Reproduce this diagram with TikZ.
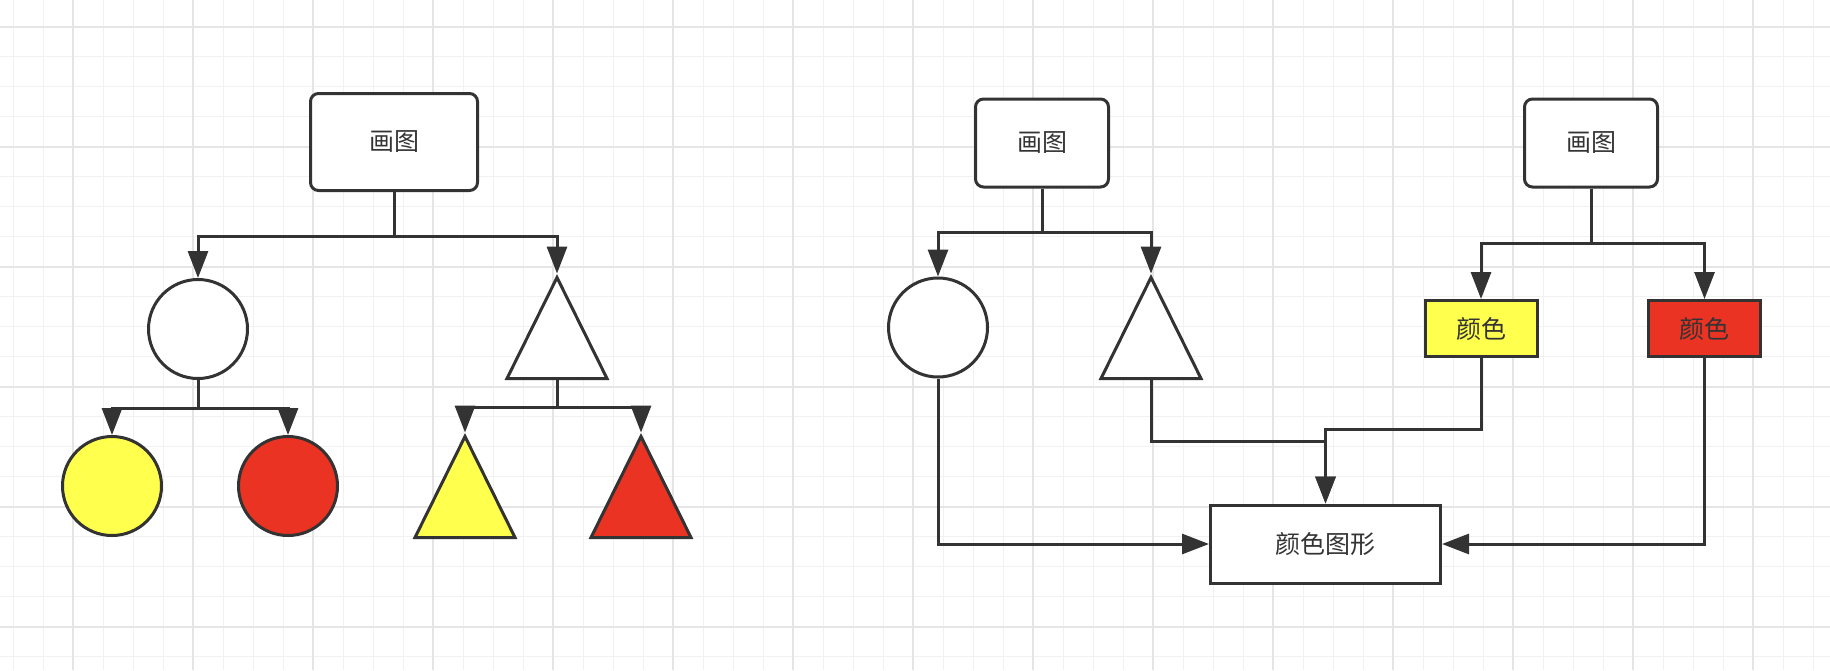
\documentclass[tikz,border=0pt]{standalone}
\usepackage{fontspec}
\setmainfont{Noto Sans CJK SC}
\usetikzlibrary{arrows.meta, shapes.geometric}
\tikzset{>={Triangle[width=20pt,length=27pt]}}
\definecolor{ink}{HTML}{333333}
\definecolor{lemon}{HTML}{FFFF4D}
\definecolor{tomato}{HTML}{EA3323}
\definecolor{gridminor}{HTML}{F1F1F1}
\definecolor{gridmajor}{HTML}{E5E5E5}

\begin{document}
\begin{tikzpicture}[x=1pt, y=-1pt,
    every node/.style={font=\fontsize{25}{29}\selectfont, text=ink, draw=ink,
      line width=3pt, inner sep=0pt, fill=white},
    drawbox/.style={rounded corners=8pt, minimum width=167pt, minimum height=97pt},
    smallbox/.style={rounded corners=8pt, minimum width=133pt, minimum height=88pt},
    ball/.style={circle, minimum size=99pt},
    cone/.style={isosceles triangle, shape border rotate=90,
      isosceles triangle stretches, minimum width=100pt, minimum height=101pt,
      anchor=south},
    tint/.style={minimum width=112pt, minimum height=56pt},
    link/.style={draw=ink, line width=3pt, ->}]
    \useasboundingbox (0,0) rectangle (1830,670);
    \fill[white] (0,0) rectangle (1830,670);
    % grid
    \foreach \i in {0,...,60} \draw[gridminor, line width=1.5pt] ({13.33+30*\i},0) -- ++(0,670);
    \foreach \i in {0,...,21} \draw[gridminor, line width=1.5pt] (0,{26.67+30*\i}) -- ++(1830,0);
    \foreach \i in {0,...,15} \draw[gridmajor, line width=1.8pt] ({73.33+120*\i},0) -- ++(0,670);
    \foreach \i in {0,...,5} \draw[gridmajor, line width=1.8pt] (0,{26.67+120*\i}) -- ++(1830,0);

    % left tree
    \node[drawbox] (paint) at (394,142) {画图};
    \node[ball] (round) at (198,329) {};
    \node[cone] (peak) at (557,380) {};
    \node[ball, fill=lemon] (roundy) at (112,486) {};
    \node[ball, fill=tomato] (roundr) at (288,486) {};
    \node[cone, fill=lemon] (peaky) at (465,539) {};
    \node[cone, fill=tomato] (peakr) at (641,539) {};
    \draw[link] (paint.south) -- ++(0,44) -| (round.north);
    \draw[link] (paint.south) -- ++(0,44) -| (peak.north);
    \draw[link] (round.south) -- ++(0,28) -| (roundy.north);
    \draw[link] (round.south) -- ++(0,28) -| (roundr.north);
    \draw[link] (peak.south) -- ++(0,27) -| (peaky.north);
    \draw[link] (peak.south) -- ++(0,27) -| (peakr.north);

    % right part
    \node[smallbox] (shape) at (1042,143) {画图};
    \node[smallbox] (color) at (1591,143) {画图};
    \node[ball] (round2) at (938,327.5) {};
    \node[cone] (peak2) at (1151,380) {};
    \node[tint, fill=lemon] (tinty) at (1481,328.5) {颜色};
    \node[tint, fill=tomato] (tintr) at (1704.5,328.5) {颜色};
    \node[minimum width=230pt, minimum height=78pt] (mix) at (1325.5,544) {颜色图形};
    \draw[link] (shape.south) -- ++(0,44) -| (round2.north);
    \draw[link] (shape.south) -- ++(0,44) -| (peak2.north);
    \draw[link] (color.south) -- ++(0,55) -| (tinty.north);
    \draw[link] (color.south) -- ++(0,55) -| (tintr.north);
    \draw[link] (round2.south) |- (mix.west);
    \draw[link] (tintr.south) |- (mix.east);
    \draw[link] (peak2.south) -- ++(0,61) -| (mix.north);
    \draw[link] (tinty.south) -- ++(0,71.5) -| (mix.north);
\end{tikzpicture}
\end{document}
